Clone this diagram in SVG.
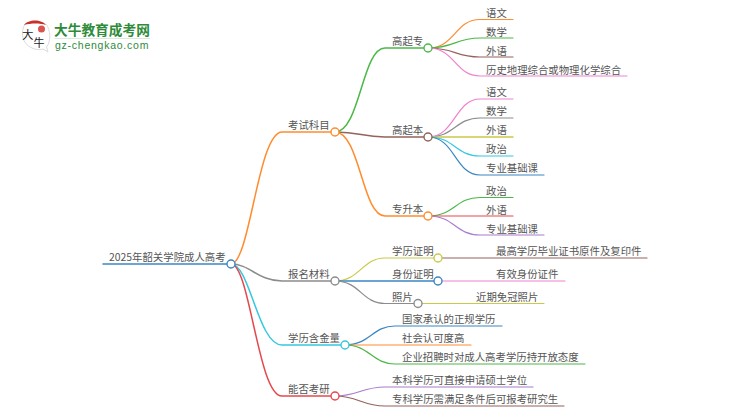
<svg xmlns="http://www.w3.org/2000/svg" width="750" height="410" viewBox="0 0 750 410">
<style>
text{font-family:"Noto Sans CJK SC","Liberation Sans",sans-serif;font-size:10.4px;fill:#555}
path{fill:none;stroke-linecap:round}
.l{stroke-width:1.2}
.m{stroke-width:1.5}
.n{fill:#fff;stroke-width:1.4}
.org{stroke:#ff8c2e}.grn{stroke:#4cb848}.brn{stroke:#94635a}.pnk{stroke:#ee82cf}.gry{stroke:#8c8c8c}.olv{stroke:#c9c94a}.cyn{stroke:#35c8de}.blu{stroke:#3b86c4}.red{stroke:#e5484d}.pur{stroke:#a87ccf}
</style>
<g id="connectors">
<path class="m blu" d="M103 264H231"/>
<path class="m org" d="M231 264C250 264 258 132 282 132H335"/>
<path class="m gry" d="M231 264C250 264 258 281 282 281H335"/>
<path class="m cyn" d="M231 264C250 264 258 345 282 345H345"/>
<path class="m red" d="M231 264C250 264 258 396 282 396H335"/>
<path class="m grn" d="M335 132C360 132 362 48 385 48H428"/>
<path class="m brn" d="M335 132C360 132 362 137 385 137H428"/>
<path class="m org" d="M335 132C360 132 362 216 385 216H428"/>
<path class="l org" d="M428 48C455 48 455 19.500 480 19.500H513"/>
<path class="l grn" d="M428 48C455 48 455 38 480 38H513"/>
<path class="l brn" d="M428 48C455 48 455 57 480 57H513"/>
<path class="l pnk" d="M428 48C455 48 455 76 480 76H627"/>
<path class="l pnk" d="M428 137C455 137 455 99 480 99H513"/>
<path class="l gry" d="M428 137C455 137 455 118 480 118H513"/>
<path class="m olv" d="M428 137H513"/>
<path class="l cyn" d="M428 137C455 137 455 156 480 156H513"/>
<path class="l blu" d="M428 137C455 137 455 175 480 175H544"/>
<path class="l grn" d="M428 216C455 216 455 197.500 480 197.500H513"/>
<path class="l red" d="M428 216H513"/>
<path class="l pur" d="M428 216C455 216 455 235 480 235H544"/>
<path class="l olv" d="M335 281C360 281 362 258 385 258H438"/>
<path class="m blu" d="M335 281H438"/>
<path class="l gry" d="M335 281C360 281 362 303.500 385 303.500H418"/>
<path class="l brn" d="M438 258H647"/>
<path class="l pnk" d="M438 281H565"/>
<path class="l olv" d="M418 303.500H544"/>
<path class="l blu" d="M345 345C370 345 372 326 395 326H502"/>
<path class="l org" d="M345 345H471"/>
<path class="l grn" d="M345 345C370 345 372 364 395 364H585"/>
<path class="l pur" d="M335 396C358 396 362 387 385 387H533"/>
<path class="l brn" d="M335 396C358 396 362 406 385 406H564"/>
</g>
<g id="logo">
<path d="M25 24C20 32 22 44 32 48C36 50 41 50 43 49L48 52L46.500 47C51 42 51 30 46 24" style="fill:#fff;stroke:#dcdcdc;stroke-width:1"/>
<path d="M24 25C28 19 42 19 46 25C40 23 31 23 24 25Z" style="fill:#c8302c;stroke:none"/>
<circle cx="41.500" cy="29" r="3.500" style="fill:#d9534f;stroke:none"/>
<text x="22" y="39" style="font-size:11.500px;fill:#222">大</text>
<text x="33.500" y="46.500" style="font-size:11px;fill:#222">牛</text>
<text x="54" y="35" style="font-size:13.700px;font-weight:700;fill:#2e8b3a">大牛教育成考网</text>
<path d="M55 38.500H150" style="stroke:#dfe8df;stroke-width:1"/>
<text x="55" y="49" style="font-size:10.500px;fill:#2e8b3a;font-family:'Liberation Sans',sans-serif;letter-spacing:.75px">gz-chengkao.com</text>
</g>
<g id="root"><text x="109" y="261">2025年韶关学院成人高考</text><circle class="n blu" cx="231" cy="264" r="4"/></g>
<g id="n-kskm"><text x="288" y="129">考试科目</text><circle class="n org" cx="335" cy="132" r="4"/></g>
<g id="n-gqz"><text x="392" y="45">高起专</text><circle class="n grn" cx="428" cy="48" r="4"/></g>
<g id="n-gqb"><text x="392" y="134">高起本</text><circle class="n brn" cx="428" cy="137" r="4"/></g>
<g id="n-zsb"><text x="392" y="213">专升本</text><circle class="n org" cx="428" cy="216" r="4"/></g>
<g id="n-bmcl"><text x="288" y="278">报名材料</text><circle class="n gry" cx="335" cy="281" r="4"/></g>
<g id="n-xlzm"><text x="392" y="255">学历证明</text><circle class="n olv" cx="438" cy="258" r="4"/></g>
<g id="n-sfzm"><text x="392" y="278">身份证明</text><circle class="n blu" cx="438" cy="281" r="4"/></g>
<g id="n-zp"><text x="392" y="301">照片</text><circle class="n gry" cx="418" cy="303.500" r="4"/></g>
<g id="n-xlhjl"><text x="288" y="342">学历含金量</text><circle class="n cyn" cx="345" cy="345" r="4"/></g>
<g id="n-nfky"><text x="288" y="393">能否考研</text><circle class="n red" cx="335" cy="396" r="4"/></g>
<g id="leaves">
<text x="486" y="17">语文</text><text x="486" y="36">数学</text><text x="486" y="55">外语</text><text x="486" y="74">历史地理综合或物理化学综合</text>
<text x="486" y="96">语文</text><text x="486" y="115">数学</text><text x="486" y="134">外语</text><text x="486" y="153">政治</text><text x="486" y="172">专业基础课</text>
<text x="486" y="195">政治</text><text x="486" y="214">外语</text><text x="486" y="233">专业基础课</text>
<text x="496" y="255">最高学历毕业证书原件及复印件</text><text x="496" y="278">有效身份证件</text><text x="476" y="301">近期免冠照片</text>
<text x="402" y="323">国家承认的正规学历</text><text x="402" y="342">社会认可度高</text><text x="402" y="361">企业招聘时对成人高考学历持开放态度</text>
<text x="392" y="384">本科学历可直接申请硕士学位</text><text x="392" y="403">专科学历需满足条件后可报考研究生</text>
</g>
</svg>
